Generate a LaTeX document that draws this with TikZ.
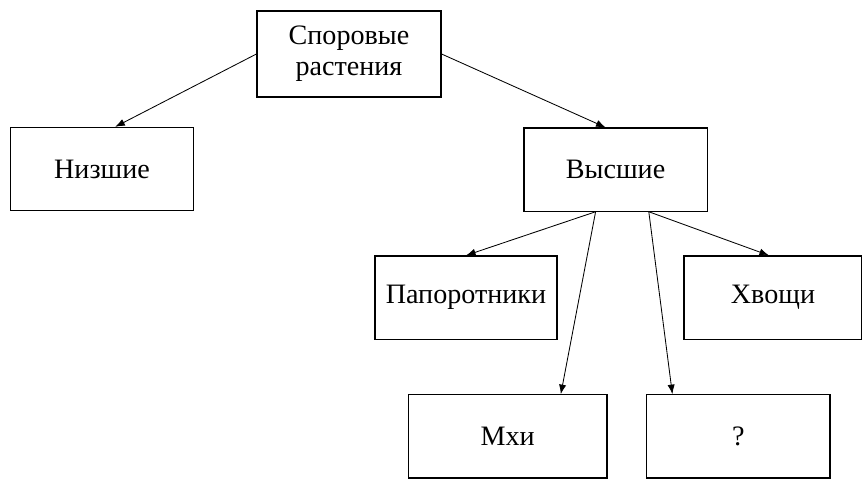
\documentclass[tikz,border=0pt]{standalone}
\usepackage{fontspec}
\setmainfont{Liberation Serif}
\usetikzlibrary{arrows.meta}
\begin{document}
\begin{tikzpicture}[box/.style={draw, line width=0.8pt, minimum height=2.08cm,
        align=center, font=\fontsize{20}{22}\selectfont},
        arr/.style={-{Latex[length=2.4mm, width=1.8mm]}, line width=0.6pt}]
        \useasboundingbox (0, 0) rectangle (21.55, 12.1);
        \node[box, minimum width=4.6cm, minimum height=2.15cm] (spore) at (8.725, 10.75) {Споровые\\растения};
        \node[box, minimum width=4.58cm] (lower) at (2.55, 7.875) {Низшие};
        \node[box, minimum width=4.58cm] (higher) at (15.39, 7.86) {Высшие};
        \node[box, minimum width=4.55cm] (ferns) at (11.65, 4.66) {Папоротники};
        \node[box, minimum width=4.45cm] (horsetails) at (19.325, 4.66) {Хвощи};
        \node[box, minimum width=4.97cm] (mosses) at (12.69, 1.19) {Мхи};
        \node[box, minimum width=4.58cm] (unknown) at (18.46, 1.19) {?};
        \draw[arr] (spore.west) -- ([xshift=0.33cm]lower.north);
        \draw[arr] (spore.east) -- ([xshift=-0.25cm]higher.north);
        \draw[arr] ([xshift=-0.5cm]higher.south) -- (ferns.north);
        \draw[arr] ([xshift=-0.5cm]higher.south) -- ([xshift=1.33cm]mosses.north);
        \draw[arr] ([xshift=0.83cm]higher.south) -- ([xshift=-1.65cm]unknown.north);
        \draw[arr] ([xshift=0.83cm]higher.south) -- ([xshift=-0.1cm]horsetails.north);
    \end{tikzpicture}
\end{document}
